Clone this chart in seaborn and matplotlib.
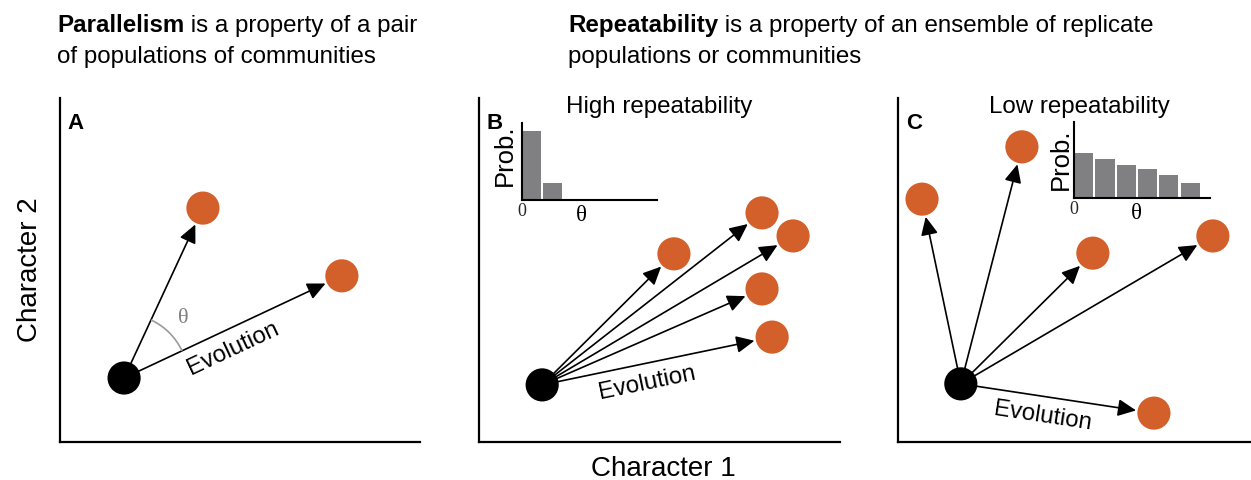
import numpy as np
import pandas as pd
import matplotlib
matplotlib.use("Agg")
import matplotlib.pyplot as plt
import matplotlib.transforms as mtransforms
from matplotlib.patches import Arc
import seaborn as sns

# ---------------- data (Character 1 / Character 2 units, 0-10) ----------------
# Panel A (parallelism): ancestor and two descendant populations
a_origin_x, a_origin_y = 1.78, 1.86
a_end_x = [3.97, 7.83]
a_end_y = [6.80, 4.83]

# Panel B (high repeatability)
b_origin_x, b_origin_y = 1.75, 1.66
b_end_x = [5.40, 7.84, 8.70, 7.84, 8.12]
b_end_y = [5.47, 6.66, 5.99, 4.45, 3.05]

# Panel C (low repeatability)
c_origin_x, c_origin_y = 1.78, 1.69
c_end_x = [0.68, 3.51, 5.52, 8.92, 7.25]
c_end_y = [7.06, 8.58, 5.49, 5.99, 0.84]

# Inset histograms of theta
theta_bins = ["b1", "b2", "b3", "b4", "b5", "b6"]
b_prob = [0.90, 0.22, 0.0, 0.0, 0.0, 0.0]
c_prob = [0.59, 0.51, 0.43, 0.38, 0.30, 0.20]

header_parallel = ("Parallelism", " is a property of a pair", "of populations of communities")
header_repeat = ("Repeatability", " is a property of an ensemble of replicate", "populations or communities")
titles = ["High repeatability", "Low repeatability"]
panel_letters = ["A", "B", "C"]
x_label = "Character 1"
y_label = "Character 2"
arrow_label = "Evolution"

ORANGE = "#D3602A"
GREY_BAR = "#808083"
FONT = ["Liberation Sans", "DejaVu Sans"]
SERIF = ["Liberation Serif", "DejaVu Serif"]

sns.set_theme(style="white")
plt.rcParams["font.family"] = FONT
plt.rcParams["axes.edgecolor"] = "black"
plt.rcParams["text.color"] = "black"
plt.rcParams["axes.labelcolor"] = "black"

W, H = 1251, 480
fig = plt.figure(figsize=(W / 100, H / 100), dpi=100)
fig.patch.set_facecolor("white")


def fbox(left, top, right, bottom):
    return [left / W, 1 - bottom / H, (right - left) / W, (bottom - top) / H]


ax_a = fig.add_axes(fbox(60, 98, 420, 442))
ax_b = fig.add_axes(fbox(479, 98, 840, 442))
ax_c = fig.add_axes(fbox(898, 98, 1251, 442))
in_b = fig.add_axes(fbox(522, 123, 657, 200))
in_c = fig.add_axes(fbox(1074, 122, 1210, 198))

PX2PT = 72 / 100


def draw_panel(ax, ox, oy, ex, ey, letter, label_idx, frac=0.45):
    pts = pd.DataFrame({"x": ex, "y": ey})
    sns.scatterplot(data=pts, x="x", y="y", s=570, color=ORANGE, edgecolor="none",
                    ax=ax, zorder=3, clip_on=False, legend=False)
    sns.scatterplot(x=[ox], y=[oy], s=570, color="black", edgecolor="none",
                    ax=ax, zorder=4, clip_on=False, legend=False)
    ax.set_xlim(0, 10)
    ax.set_ylim(0, 10)
    ax.set_xticks([])
    ax.set_yticks([])
    ax.set_xlabel("")
    ax.set_ylabel("")
    ax.set_facecolor("white")
    sns.despine(ax=ax)
    for s in ("left", "bottom"):
        ax.spines[s].set_linewidth(1.6)
        ax.spines[s].set_color("black")
    for x, y in zip(ex, ey):
        ax.annotate("", xy=(x, y), xytext=(ox, oy),
                    arrowprops=dict(arrowstyle="-|>,head_length=0.85,head_width=0.4",
                                    mutation_scale=13, color="black", lw=1.2,
                                    shrinkA=0, shrinkB=13.0),
                    zorder=2)
    ax.text(0.022, 0.91, letter, transform=ax.transAxes, fontsize=16,
            fontweight="bold", ha="left", va="baseline")
    # "Evolution" label along one arrow
    p0 = ax.transData.transform((ox, oy))
    p1 = ax.transData.transform((ex[label_idx], ey[label_idx]))
    d = p1 - p0
    ang = np.degrees(np.arctan2(d[1], d[0]))
    u = d / np.hypot(*d)
    n = np.array([u[1], -u[0]])
    off = n * 20 * PX2PT
    mid = (ox + frac * (ex[label_idx] - ox), oy + frac * (ey[label_idx] - oy))
    ax.annotate(arrow_label, xy=mid, xytext=off, textcoords="offset points",
                rotation=ang, rotation_mode="anchor", ha="center", va="center",
                fontsize=17.3)


draw_panel(ax_a, a_origin_x, a_origin_y, a_end_x, a_end_y, panel_letters[0], 1, 0.46)
draw_panel(ax_b, b_origin_x, b_origin_y, b_end_x, b_end_y, panel_letters[1], 4, 0.44)
draw_panel(ax_c, c_origin_x, c_origin_y, c_end_x, c_end_y, panel_letters[2], 4, 0.44)

# theta angle arc in panel A
p0 = ax_a.transData.transform((a_origin_x, a_origin_y))
angs = []
for x, y in zip(a_end_x, a_end_y):
    d = ax_a.transData.transform((x, y)) - p0
    angs.append(np.degrees(np.arctan2(d[1], d[0])))
arc_r_in = 0.64
arc_trans = fig.dpi_scale_trans + mtransforms.ScaledTranslation(a_origin_x, a_origin_y, ax_a.transData)
arc = Arc((0, 0), 2 * arc_r_in, 2 * arc_r_in, theta1=min(angs), theta2=max(angs),
          transform=arc_trans, color="#9a9a9a", lw=1.2, zorder=2)
ax_a.add_patch(arc)
bis = np.radians(np.mean(angs))
r_lab = 84 * PX2PT
ax_a.annotate("θ", xy=(a_origin_x, a_origin_y), xytext=(r_lab * np.cos(bis), r_lab * np.sin(bis)),
              textcoords="offset points", ha="center", va="center", fontsize=16,
              color="#808080", family=SERIF)


def draw_inset(ax, probs, xmax, th_xy, pr_xy):
    df = pd.DataFrame({"bin": theta_bins, "prob": probs})
    sns.barplot(data=df, x="bin", y="prob", order=theta_bins, color=GREY_BAR,
                saturation=1, width=0.9, linewidth=0, errorbar=None, ax=ax)
    ax.set_xlim(-0.45, xmax)
    ax.set_ylim(0, 1)
    ax.set_facecolor("none")
    sns.despine(ax=ax)
    for s in ("left", "bottom"):
        ax.spines[s].set_linewidth(1.5)
        ax.spines[s].set_color("black")
    ax.set_yticks([])
    ax.set_xticks([-0.45])
    ax.set_xticklabels(["0"], family=SERIF, fontsize=13)
    ax.tick_params(axis="x", length=0, pad=2)
    ax.set_xlabel("θ", family=SERIF, fontsize=16.5)
    ax.xaxis.set_label_coords(*th_xy)
    ax.xaxis.label.set_va("center")
    ax.set_ylabel("Prob.", fontsize=18.5)
    ax.yaxis.label.set_rotation_mode("anchor")
    ax.yaxis.label.set_va("center")
    ax.yaxis.label.set_ha("center")
    ax.yaxis.set_label_coords(*pr_xy)


draw_inset(in_b, b_prob, 5.89, (0.44, -0.2), (-0.126, 0.58))
draw_inset(in_c, c_prob, 5.93, (0.456, -0.2), (-0.096, 0.51))

# panel titles
ax_b.text(0.5, 0.956, titles[0], transform=ax_b.transAxes, ha="center", va="baseline", fontsize=17.4)
ax_c.text(0.513, 0.956, titles[1], transform=ax_c.transAxes, ha="center", va="baseline", fontsize=17.4)

# axis labels
ax_b.set_xlabel(x_label, fontsize=20)
ax_b.xaxis.set_label_coords(0.51, -0.099)
ax_b.xaxis.label.set_va("baseline")
ax_a.set_ylabel(y_label, fontsize=20)
ax_a.yaxis.label.set_rotation_mode("anchor")
ax_a.yaxis.label.set_va("baseline")
ax_a.yaxis.label.set_ha("center")
ax_a.yaxis.set_label_coords(-0.064, 0.5)

# headers
renderer = fig.canvas.get_renderer()


def header(x_px, parts):
    t1 = fig.text(x_px / W, 1 - 32 / H, parts[0], fontweight="bold", fontsize=17.4, va="baseline")
    bb = t1.get_window_extent(renderer)
    fig.text(bb.x1 / W, 1 - 32 / H, parts[1], fontsize=17.4, va="baseline")
    fig.text(x_px / W, 1 - 62.5 / H, parts[2], fontsize=17.4, va="baseline")


header(57, header_parallel)
header(568, header_repeat)

fig.savefig("out.png", dpi=100, facecolor="white")
